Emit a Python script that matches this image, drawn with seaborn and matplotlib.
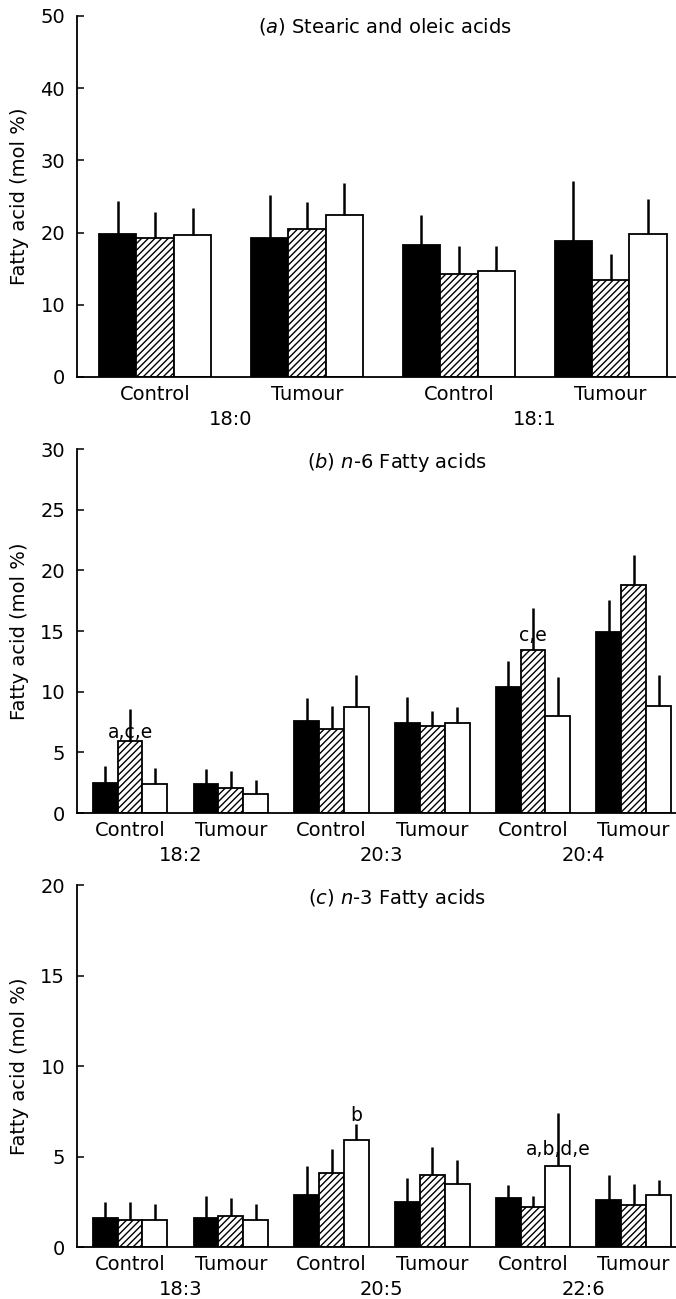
import matplotlib
matplotlib.use("Agg")
import pandas as pd
import matplotlib.pyplot as plt
import seaborn as sns

# three dietary groups (black, hatched, white bars)
diets = ["Diet 1", "Diet 2", "Diet 3"]
sites = ["Control", "Tumour"]

# (a) stearic and oleic acids
acids_a = ["18:0", "18:1"]
means_a = [[19.8, 19.3, 19.6], [19.3, 20.5, 22.4],
           [18.3, 14.3, 14.7], [18.8, 13.4, 19.8]]
errs_a = [[4.6, 3.6, 3.8], [5.9, 3.8, 4.4],
          [4.2, 3.9, 3.5], [8.4, 3.7, 4.8]]

# (b) n-6 fatty acids
acids_b = ["18:2", "20:3", "20:4"]
means_b = [[2.5, 5.9, 2.4], [2.4, 2.1, 1.6],
           [7.6, 6.9, 8.7], [7.4, 7.2, 7.4],
           [10.4, 13.4, 8.0], [14.9, 18.8, 8.8]]
errs_b = [[1.4, 2.7, 1.3], [1.2, 1.4, 1.1],
          [1.9, 1.9, 2.7], [2.2, 1.2, 1.3],
          [2.1, 3.5, 3.2], [2.7, 2.5, 2.6]]

# (c) n-3 fatty acids
acids_c = ["18:3", "20:5", "22:6"]
means_c = [[1.6, 1.5, 1.5], [1.6, 1.7, 1.5],
           [2.9, 4.1, 5.9], [2.5, 4.0, 3.5],
           [2.7, 2.2, 4.5], [2.6, 2.3, 2.9]]
errs_c = [[0.9, 1.0, 0.9], [1.2, 1.0, 0.9],
          [1.6, 1.3, 0.9], [1.3, 1.5, 1.3],
          [0.7, 0.6, 2.9], [1.4, 1.2, 0.8]]

# significance letters: (group index, diet index, baseline value, text)
notes_b = [(0, 1, 6.2, "a,c,e"), (4, 1, 14.15, "c,e")]
notes_c = [(2, 2, 6.95, "b"), (4, 2, 5.1, "a,b,d,e")]

panels = [
    ("(${\\it a}$) Stearic and oleic acids", acids_a, means_a, errs_a, [], 50, 10,
     0.7098, 0.2779, (-0.514, 3.43), 0.514, 0.955),
    ("(${\\it b}$) ${\\it n}$-6 Fatty acids", acids_b, means_b, errs_b, notes_b, 30, 5,
     0.3741, 0.2802, (-0.526, 5.42), 0.534, 0.947),
    ("(${\\it c}$) ${\\it n}$-3 Fatty acids", acids_c, means_c, errs_c, notes_c, 20, 5,
     0.0400, 0.2787, (-0.526, 5.42), 0.534, 0.948),
]

sns.set_theme(style="ticks")
family = "DejaVu Sans"
plt.rcParams["font.family"] = [family]
plt.rcParams["mathtext.fontset"] = "custom"
plt.rcParams["mathtext.rm"] = family
plt.rcParams["mathtext.it"] = family + ":italic"
plt.rcParams["hatch.linewidth"] = 1.0
for key in ["text.color", "axes.labelcolor", "xtick.color", "ytick.color",
            "axes.edgecolor"]:
    plt.rcParams[key] = "black"

fig = plt.figure(figsize=(6.76, 12.99), dpi=100)

for title, acids, means, errs, notes, ymax, ystep, bottom, height, xlim, tx, ty in panels:
    ax = fig.add_axes([0.114, bottom, 0.886, height])

    rows = []
    for i, (m_row, e_row) in enumerate(zip(means, errs)):
        for j, d in enumerate(diets):
            rows.append({"pos": f"{acids[i // 2]} {sites[i % 2]}",
                         "diet": d, "value": m_row[j], "err": e_row[j]})
    df = pd.DataFrame(rows)
    order = list(dict.fromkeys(df["pos"]))

    sns.barplot(data=df, x="pos", y="value", hue="diet", order=order,
                hue_order=diets, palette=["black", "white", "white"],
                edgecolor="black", linewidth=1.3, width=0.74, gap=0,
                errorbar=None, legend=False, ax=ax)

    for j, cont in enumerate(ax.containers):
        if j == 1:
            for bar in cont:
                bar.set_hatch("/////")
        for i, bar in enumerate(cont):
            x = bar.get_x() + bar.get_width() / 2
            top = bar.get_height()
            ax.vlines(x, top, top + errs[i][j], color="black", lw=1.8, zorder=3)

    for gi, dj, yv, txt in notes:
        bar = ax.containers[dj][gi]
        ax.text(bar.get_x() + bar.get_width() / 2, yv, txt, ha="center",
                va="baseline", fontsize=13.5, zorder=4)

    ax.set_xlim(*xlim)
    ax.set_ylim(0, ymax)
    ax.set_yticks(range(0, ymax + 1, ystep))
    ax.set_xticks(range(len(order)))
    ax.set_xticklabels([sites[i % 2] for i in range(len(order))])
    ax.tick_params(axis="x", length=0, pad=5.5, labelsize=14)
    ax.tick_params(axis="y", direction="in", length=5, width=1.1, pad=8.6,
                   labelsize=14)
    for k, acid in enumerate(acids):
        ax.annotate(acid, xy=(2 * k + 0.5, 0), xycoords=("data", "axes fraction"),
                    xytext=(0, -24), textcoords="offset points",
                    ha="center", va="top", fontsize=14)

    ax.set_xlabel("")
    ax.set_ylabel("Fatty acid (mol %)", fontsize=14)
    ax.yaxis.set_label_coords(-0.08, 0.5)
    ax.text(tx, ty, title, transform=ax.transAxes, ha="center", va="baseline",
            fontsize=14)

    sns.despine(ax=ax)
    ax.spines["left"].set_linewidth(1.3)
    ax.spines["bottom"].set_linewidth(1.3)

fig.savefig("out.png", dpi=100)
